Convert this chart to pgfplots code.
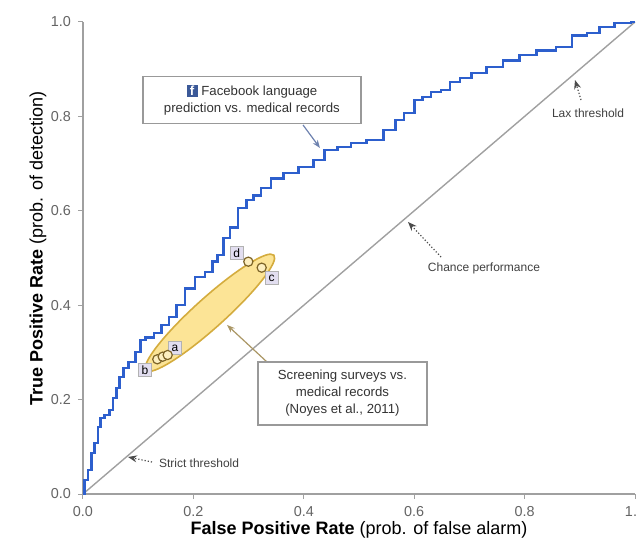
\documentclass[border=0pt]{standalone}
\usepackage{pgfplots}
\pgfplotsset{compat=1.18}
\usepackage{fontspec}
\setmainfont{Liberation Sans}
\usetikzlibrary{arrows.meta,shapes.geometric}
\definecolor{roc}{RGB}{45,95,205}
\definecolor{fbblue}{RGB}{59,89,152}
\definecolor{ellfill}{RGB}{252,228,150}
\definecolor{elldraw}{RGB}{212,172,62}
\definecolor{mkdraw}{RGB}{125,100,40}
\definecolor{lav}{RGB}{226,222,240}
\definecolor{axgray}{RGB}{160,160,160}
\definecolor{tkgray}{RGB}{100,100,100}
\definecolor{ptrblue}{RGB}{110,130,175}
\definecolor{ptrtan}{RGB}{170,150,100}
\begin{document}
\begin{tikzpicture}
\begin{axis}[
  scale only axis, width=276pt, height=236pt,
  xmin=0, xmax=1, ymin=0, ymax=1,
  axis x line=bottom, axis y line=left,
  axis line style={-, draw=axgray, line width=0.6pt},
  xtick={0,0.2,0.4,0.6,0.8,1}, ytick={0,0.2,0.4,0.6,0.8,1},
  xticklabels={0.0,0.2,0.4,0.6,0.8,1.0},
  yticklabels={0.0,0.2,0.4,0.6,0.8,1.0},
  tick align=outside, major tick length=2.5pt,
  tick style={draw=axgray, line width=0.5pt},
  /pgf/number format/assume math mode=true,
  ticklabel style={font=\fontsize{7.2}{8}\selectfont, text=tkgray},
  xlabel={\textbf{False Positive Rate} (prob. of false alarm)},
  ylabel={\textbf{True Positive Rate} (prob. of detection)},
  label style={font=\fontsize{9}{10}\selectfont},
  xlabel style={at={(rel axis cs:0.5,0)}, anchor=center, yshift=-18pt},
  ylabel style={at={(rel axis cs:0,0.52)}, anchor=center, yshift=22.5pt},
  clip=false,
]
% chance line
\addplot[draw=axgray, line width=0.7pt] coordinates {(0,0) (1,1)};
% ellipse region
\node[ellipse, draw=elldraw, fill=ellfill, line width=0.8pt, minimum width=86pt, minimum height=15pt, inner sep=0pt, rotate=42] at (axis cs:0.230,0.384) {};
% ROC curve
\addplot[color=roc, line width=1.3pt, const plot mark mid] coordinates {
(0,0) (0.0054,0.0297) (0.0127,0.0508) (0.0181,0.0869) (0.0236,0.108)
(0.0308,0.142) (0.0326,0.161) (0.0453,0.167) (0.0507,0.178) (0.058,0.203)
(0.0634,0.225) (0.0688,0.248) (0.0779,0.267) (0.087,0.280) (0.103,0.301)
(0.105,0.326) (0.121,0.331) (0.136,0.341) (0.149,0.358) (0.163,0.375)
(0.176,0.400) (0.194,0.436) (0.212,0.460) (0.230,0.470) (0.239,0.492)
(0.248,0.506) (0.261,0.542) (0.272,0.564) (0.290,0.606) (0.303,0.623)
(0.315,0.633) (0.330,0.648) (0.351,0.669) (0.375,0.680) (0.406,0.693)
(0.429,0.708) (0.447,0.729) (0.475,0.735) (0.496,0.744) (0.531,0.750)
(0.558,0.771) (0.574,0.792) (0.589,0.807) (0.611,0.835) (0.620,0.841)
(0.641,0.852) (0.656,0.856) (0.674,0.873) (0.692,0.881) (0.716,0.892)
(0.746,0.905) (0.775,0.919) (0.806,0.930) (0.837,0.939) (0.877,0.947)
(0.895,0.972) (0.931,0.977) (0.940,0.989) (0.986,0.998) (1,1)
};
% screening survey points
\addplot[only marks, mark=*, mark size=2.3pt, mark options={draw=mkdraw, fill=ellfill!60!white, line width=0.6pt}] coordinates {
(0.1346,0.2854) (0.1444,0.2909) (0.1534,0.2945) (0.2995,0.4922) (0.3237,0.4795)
};
% point labels
\tikzset{ptlab/.style={draw=gray!60, fill=lav, inner sep=0.6pt, minimum size=6.5pt, font=\fontsize{6}{6}\selectfont}}
\node[ptlab] at (axis cs:0.1667,0.3087) {a};
\node[ptlab] at (axis cs:0.1123,0.2627) {b};
\node[ptlab] at (axis cs:0.3418,0.4570) {c};
\node[ptlab] at (axis cs:0.2784,0.5100) {d};
% pointers
\draw[ptrblue, line width=0.6pt, -{Stealth[length=4pt,width=3pt]}] (axis cs:0.3986,0.7818) -- (axis cs:0.4293,0.7331);
\draw[ptrtan, line width=0.6pt, -{Stealth[length=4pt,width=3pt]}] (axis cs:0.3333,0.2797) -- (axis cs:0.2609,0.3581);
\draw[black!70, densely dotted, line width=0.6pt, -{Stealth[length=4.5pt,width=3.5pt]}] (axis cs:0.9022,0.8347) -- (axis cs:0.8913,0.8771);
\draw[black!70, densely dotted, line width=0.6pt, -{Stealth[length=4.5pt,width=3.5pt]}] (axis cs:0.6486,0.5021) -- (axis cs:0.5888,0.5763);
\draw[black!70, densely dotted, line width=0.6pt, -{Stealth[length=4.5pt,width=3.5pt]}] (axis cs:0.125,0.0678) -- (axis cs:0.0815,0.0784);
% text annotations
\node[font=\fontsize{6}{7}\selectfont, text=black!75] at (axis cs:0.9149,0.8072) {Lax threshold};
\node[font=\fontsize{6}{7}\selectfont, text=black!75] at (axis cs:0.7264,0.4788) {Chance performance};
\node[font=\fontsize{6}{7}\selectfont, text=black!75, anchor=west] at (axis cs:0.1250,0.0657) {Strict threshold};
% boxes
\node[draw=gray!80, fill=white, line width=0.6pt, minimum width=109pt, minimum height=23.5pt, align=center, inner sep=1pt, font=\fontsize{6.6}{8.5}\selectfont, text=black!80] at (axis cs:0.306,0.834)
  {{\setlength{\fboxsep}{0.6pt}\colorbox{fbblue}{\textcolor{white}{\textbf{\,f\,}}}}\ Facebook language\\prediction vs. medical records};
\node[draw=gray!80, fill=white, line width=0.6pt, minimum width=84.5pt, minimum height=31.5pt, align=center, inner sep=1pt, font=\fontsize{6.6}{8.5}\selectfont, text=black!80] at (axis cs:0.470,0.213)
  {Screening surveys vs.\\medical records\\(Noyes et al., 2011)};
\end{axis}
\pgfresetboundingbox
\useasboundingbox (-41.5pt,-23pt) rectangle (276.5pt,247pt);
\end{tikzpicture}
\end{document}
